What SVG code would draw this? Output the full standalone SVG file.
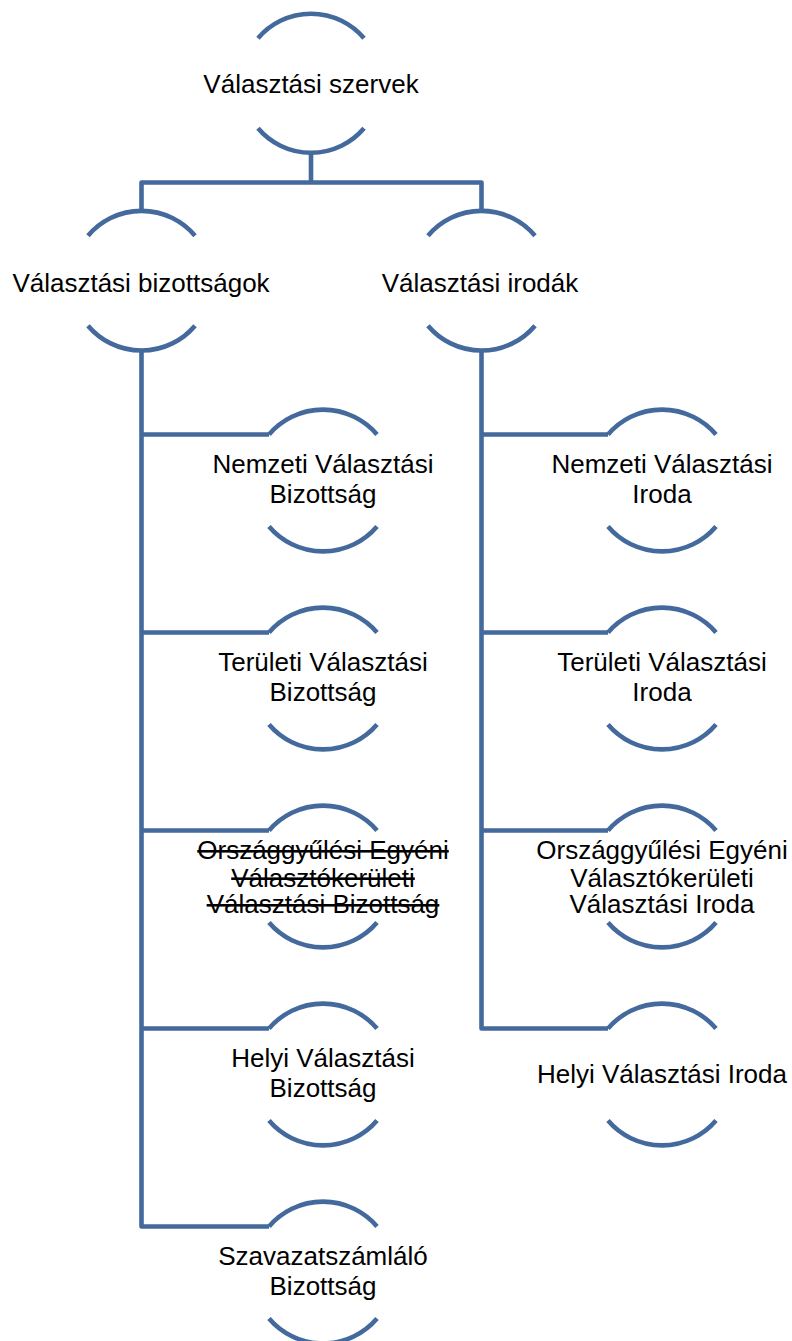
<svg xmlns="http://www.w3.org/2000/svg" width="792" height="1341" viewBox="0 0 792 1341">
<style>
.arc{fill:none;stroke:#44699C;stroke-width:4.6}
.con{fill:none;stroke:#44699C;stroke-width:4.6;stroke-linejoin:round}
.t{font-family:"Liberation Sans",Arial,sans-serif;font-size:26px;fill:#000;text-anchor:middle}
.s{text-decoration:line-through}
</style>
<rect width="792" height="1341" fill="#fff"/>
<g id="connectors">
<path class="con" d="M311,152.75 V182.5"/>
<path class="con" d="M141.5,210.7 V182.5 H481.5 V210.7"/>
<path class="con" d="M141.5,350.7 V1226.5 H269"/>
<path class="con" d="M141.5,434.5 H269 M141.5,632.5 H269 M141.5,830.5 H269 M141.5,1028.5 H269"/>
<path class="con" d="M481.5,350.7 V1028.5 H608"/>
<path class="con" d="M481.5,434.5 H608 M481.5,632.5 H608 M481.5,830.5 H608"/>
</g>
<g id="n_top">
<path class="arc" d="M258,38.25 A69.5,69.5 0 0 1 364,38.25 M258,128.25 A69.5,69.5 0 0 0 364,128.25"/>
<text class="t" x="311" y="93">Választási szervek</text>
</g>
<g id="n_biz">
<path class="arc" d="M88,235.7 A70,70 0 0 1 195,235.7 M88,325.7 A70,70 0 0 0 195,325.7"/>
<text class="t" x="141" y="292">Választási bizottságok</text>
</g>
<g id="n_iro">
<path class="arc" d="M428,235.7 A70,70 0 0 1 535,235.7 M428,325.7 A70,70 0 0 0 535,325.7"/>
<text class="t" x="480" y="292">Választási irodák</text>
</g>
<g id="n_nvb">
<path class="arc" d="M269,434.5 A71,71 0 0 1 377,434.5 M269,526.5 A71,71 0 0 0 377,526.5"/>
<text class="t" x="323" y="473.3">Nemzeti Választási</text>
<text class="t" x="323" y="503.3">Bizottság</text>
</g>
<g id="n_tvb">
<path class="arc" d="M269,632.5 A71,71 0 0 1 377,632.5 M269,724.5 A71,71 0 0 0 377,724.5"/>
<text class="t" x="323" y="671.3">Területi Választási</text>
<text class="t" x="323" y="701.3">Bizottság</text>
</g>
<g id="n_oevb">
<path class="arc" d="M269,830.5 A71,71 0 0 1 377,830.5 M269,922.5 A71,71 0 0 0 377,922.5"/>
<text class="t s" x="323" y="859.3">Országgyűlési Egyéni</text>
<text class="t s" x="323" y="886.7">Választókerületi</text>
<text class="t s" x="323" y="913.3">Választási Bizottság</text>
</g>
<g id="n_hvb">
<path class="arc" d="M269,1028.5 A71,71 0 0 1 377,1028.5 M269,1120.5 A71,71 0 0 0 377,1120.5"/>
<text class="t" x="323" y="1067.3">Helyi Választási</text>
<text class="t" x="323" y="1097.3">Bizottság</text>
</g>
<g id="n_szb">
<path class="arc" d="M269,1226.5 A71,71 0 0 1 377,1226.5 M269,1318.5 A71,71 0 0 0 377,1318.5"/>
<text class="t" x="323" y="1265.3">Szavazatszámláló</text>
<text class="t" x="323" y="1295.3">Bizottság</text>
</g>
<g id="n_nvi">
<path class="arc" d="M608,434.5 A71,71 0 0 1 716,434.5 M608,526.5 A71,71 0 0 0 716,526.5"/>
<text class="t" x="662" y="473.3">Nemzeti Választási</text>
<text class="t" x="662" y="503.3">Iroda</text>
</g>
<g id="n_tvi">
<path class="arc" d="M608,632.5 A71,71 0 0 1 716,632.5 M608,724.5 A71,71 0 0 0 716,724.5"/>
<text class="t" x="662" y="671.3">Területi Választási</text>
<text class="t" x="662" y="701.3">Iroda</text>
</g>
<g id="n_oevi">
<path class="arc" d="M608,830.5 A71,71 0 0 1 716,830.5 M608,922.5 A71,71 0 0 0 716,922.5"/>
<text class="t" x="662" y="859.3">Országgyűlési Egyéni</text>
<text class="t" x="662" y="886.7">Választókerületi</text>
<text class="t" x="662" y="913.3">Választási Iroda</text>
</g>
<g id="n_hvi">
<path class="arc" d="M608,1028.5 A71,71 0 0 1 716,1028.5 M608,1120.5 A71,71 0 0 0 716,1120.5"/>
<text class="t" x="662" y="1082.7">Helyi Választási Iroda</text>
</g>
</svg>
